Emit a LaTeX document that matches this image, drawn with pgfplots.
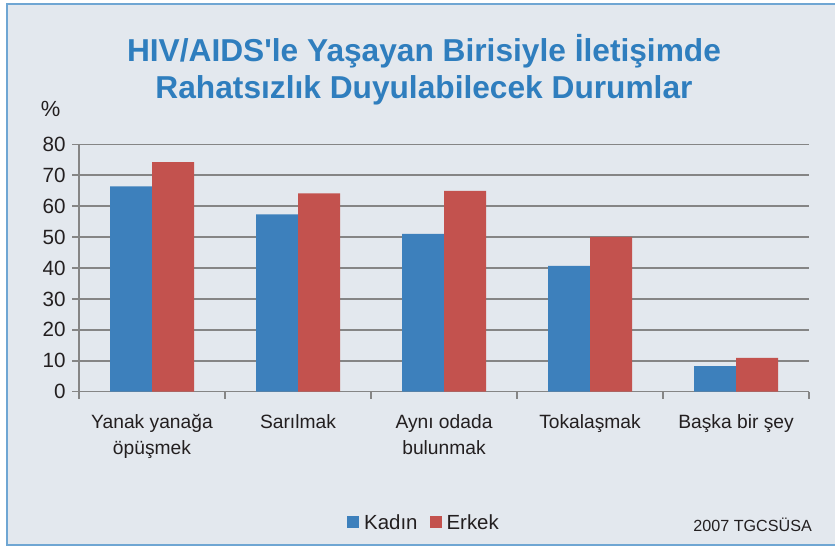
\documentclass[border=0pt]{standalone}
\usepackage{fontspec}
\setmainfont{Liberation Sans}[Ligatures=TeXOff]
\usepackage{pgfplots}
\pgfplotsset{compat=1.18}
\definecolor{bg}{HTML}{E3E8EE}
\definecolor{framec}{HTML}{6FA6D3}
\definecolor{kblue}{HTML}{3D80BC}
\definecolor{ered}{HTML}{C3524E}
\definecolor{ttl}{HTML}{2F7EBE}
\definecolor{gridc}{HTML}{858585}
\definecolor{txt}{HTML}{231F20}
\begin{document}
\begin{tikzpicture}[x=1bp,y=1bp]
\useasboundingbox (0,0) rectangle (835,547);
\begin{scope}
\clip (0,0) rectangle (835,547);
\fill[white] (0,0) rectangle (835,547);
\draw[framec, line width=2bp, fill=bg] (7,2) rectangle (850,543);
\end{scope}
\node[text=ttl, font=\fontsize{31.8}{37.5}\selectfont\bfseries, align=center] at (424,477) {HIV/AIDS'le Yaşayan Birisiyle İletişimde\\Rahatsızlık Duyulabilecek Durumlar};
\node[text=txt, font=\fontsize{22}{24}\selectfont] at (50.5,438) {\%};
\node[text=txt, font=\fontsize{16.2}{19}\selectfont, anchor=base east, inner sep=0pt] at (812,15) {2007 TGCSÜSA};
\begin{axis}[
  at={(79bp,155.3bp)}, anchor=south west,
  scale only axis, width=730bp, height=247.4bp,
  xmin=-0.5, xmax=4.5, ymin=0, ymax=80,
  ybar=0pt, bar width=42bp,
  axis x line*=bottom, axis y line*=left,
  axis line style={gridc, line width=1.5bp, -},
  ymajorgrids, major grid style={gridc, line width=1.5bp},
  ytick={0,10,...,80},
  xtick={0,...,4},
  xticklabels={{Yanak yanağa\\öpüşmek},{Sarılmak},{Aynı odada\\bulunmak},{Tokalaşmak},{Başka bir şey}},
  minor xtick={-0.5,0.5,...,4.5},
  tick align=outside,
  major tick length=7bp, minor tick length=7bp,
  tick style={gridc, line width=1.5bp},
  major x tick style={draw=none},
  /pgf/number format/assume math mode=true,
  yticklabel style={font=\fontsize{20.7}{22}\selectfont, text=txt, xshift=-3bp},
  xticklabel style={font=\fontsize{19.3}{26}\selectfont, text=txt, align=center, yshift=-12bp},
  legend image code/.code={\fill[#1] (0bp,-5bp) rectangle (12bp,7bp); \path (15bp,0bp);},
  legend style={at={(axis description cs:0.4726,-0.532)}, anchor=center, draw=none, fill=none,
    legend columns=2, font=\fontsize{20.5}{22}\selectfont, text=txt,
    /tikz/every even column/.append style={column sep=10bp}},
]
\addplot[fill=kblue, draw=none] coordinates {(0,66.4) (1,57.3) (2,51.0) (3,40.7) (4,8.3)};
\addplot[fill=ered, draw=none] coordinates {(0,74.2) (1,64.1) (2,64.9) (3,50.1) (4,10.9)};
\legend{Kadın, Erkek}
\end{axis}
\end{tikzpicture}
\end{document}
